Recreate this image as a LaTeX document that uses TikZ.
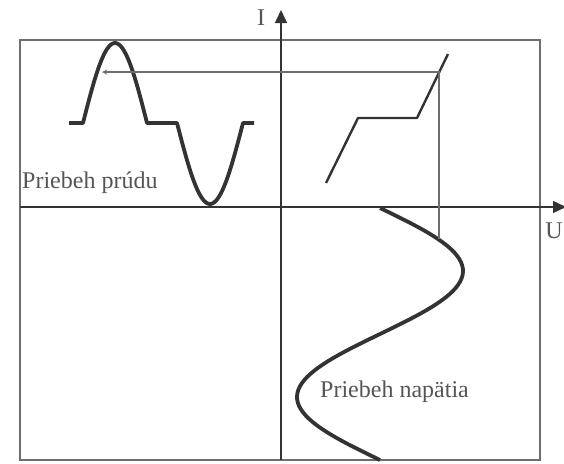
\documentclass[tikz,border=0pt]{standalone}
\usepackage{fontspec}
\setmainfont{Liberation Serif}
\usetikzlibrary{arrows.meta}
\definecolor{inkgray}{HTML}{333333}
\definecolor{linegray}{HTML}{6E6E6E}
\definecolor{textgray}{HTML}{555555}
\tikzset{
  frameline/.style={linegray, line width=1.2pt},
  axisline/.style={inkgray, line width=1.4pt, -{Triangle[length=13pt,width=12pt]}},
  wave/.style={inkgray, line width=3.8pt, line join=round},
  charline/.style={inkgray, line width=2.4pt, line join=round},
  projline/.style={linegray, line width=1.3pt},
  caption/.style={textgray, font=\fontsize{24}{28}\selectfont, inner sep=0pt}
}
\begin{document}
\begin{tikzpicture}[>=stealth, x=1pt, y=-1pt]
\useasboundingbox (0,0) rectangle (564,463);
% frame and axes
\coordinate (TL) at (20,40);
\coordinate (BR) at (540,460);
\coordinate (O) at (281,207);
\coordinate (Ibot) at (281,460);
\coordinate (Itop) at (281,10);
\coordinate (Uleft) at (20,207);
\coordinate (Uright) at (566,207);
\draw[frameline] (TL) rectangle (BR);
\draw[axisline] (Ibot) -- (Itop);
\draw[axisline] (Uleft) -- (Uright);
\node[caption, anchor=base] (Ilab) at (261,25) {I};
\node[caption, anchor=base east] (Ulab) at (563,238) {U};
% characteristic I(U)
\coordinate (K1) at (326,183);
\coordinate (K2) at (358,118);
\coordinate (K3) at (417,118);
\coordinate (K4) at (448,54);
\draw[charline] (K1) -- (K2) -- (K3) -- (K4);
% current waveform
\draw[wave] (69,123) -- (83,123)
  -- plot[domain=0:180, samples=40] ({83+0.3556*\x}, {123-80*sin(\x)})
  -- (177,123)
  -- plot[domain=0:180, samples=40] ({177+0.3667*\x}, {123+81*sin(\x)})
  -- (254,123);
% voltage waveform
\draw[wave] plot[domain=0:360, samples=80] ({380+83*sin(\x)}, {208+0.7*\x});
% projection
\coordinate (Upt) at (439,239);
\coordinate (Kpt) at (439,72);
\coordinate (Ipt) at (102,72);
\draw[projline, ->] (Upt) -- (Kpt) -- (Ipt);
\node[caption, anchor=base west] (prud) at (22,188) {Priebeh prúdu};
\node[caption, anchor=base west] (nap) at (320,397) {Priebeh napätia};
\end{tikzpicture}
\end{document}
